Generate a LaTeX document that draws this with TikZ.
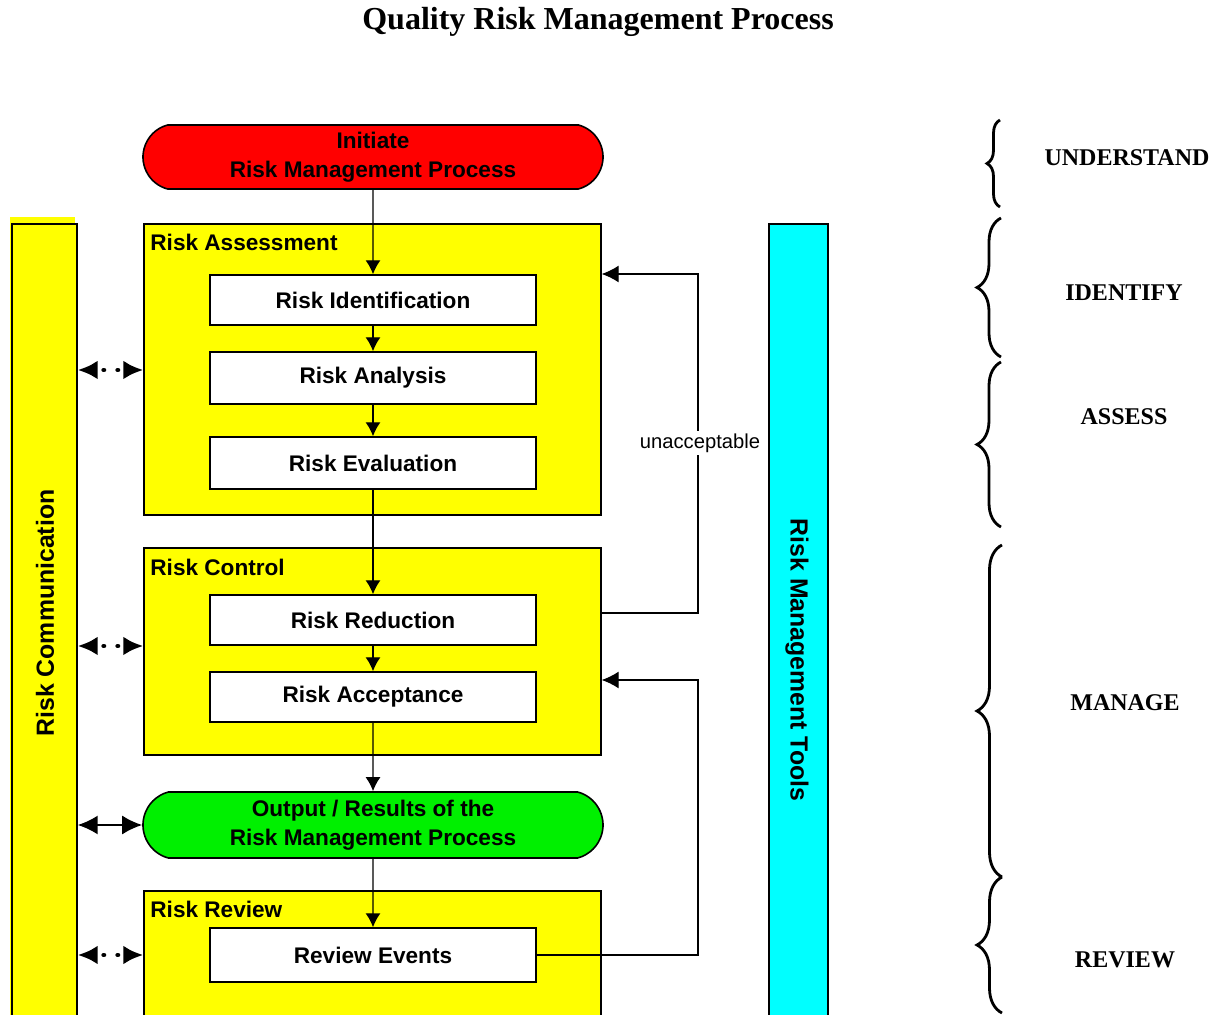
\documentclass[tikz,border=0pt]{standalone}
\usepackage{fontspec}
\setmainfont{Liberation Serif}
\setsansfont{Liberation Sans}
\usetikzlibrary{arrows.meta,shapes.misc,decorations.pathreplacing}
\definecolor{qyellow}{RGB}{255,255,0}
\definecolor{qcyan}{RGB}{0,255,255}
\definecolor{qred}{RGB}{255,0,0}
\definecolor{qgreen}{RGB}{0,240,0}

\begin{document}
\begin{tikzpicture}[x=0.5pt,y=-0.5pt,
    every node/.style={font=\sffamily\bfseries\fontsize{11.3}{14.5}\selectfont},
    stage/.style={draw,fill=white,line width=0.7pt,minimum width=163pt,inner sep=0pt},
    area/.style={draw,fill=qyellow,line width=0.7pt,minimum width=228.5pt,inner sep=0pt},
    bar/.style={draw,line width=0.7pt,minimum height=403pt,inner sep=0pt},
    pill/.style={draw,line width=0.8pt,rounded rectangle,rounded rectangle arc length=150,
        minimum width=230pt,align=center,inner sep=0pt},
    tag/.style={anchor=west,inner sep=0pt},
    side/.style={inner sep=0pt,font=\sffamily\bfseries\fontsize{12.4}{15}\selectfont},
    flow/.style={-{Latex[length=7pt,width=7.5pt]},line width=0.7pt},
    back/.style={-{Latex[length=8.5pt,width=8.5pt]},line width=0.6pt},
    talk/.style={{Latex[length=10pt,width=9.5pt]}-{Latex[length=10pt,width=9.5pt]},line width=1pt},
    dotty/.style={line width=2.4pt,line cap=round,dash pattern=on 0.1pt off 6.9pt,dash phase=3pt},
    phase/.style={font=\rmfamily\bfseries\fontsize{12}{14}\selectfont},
    curly/.style={decorate,decoration={brace,amplitude=#1},line width=1.4pt}]

    \useasboundingbox (0,0) rectangle (1222,1015);

    \node[font=\rmfamily\bfseries\fontsize{16}{19}\selectfont] (title) at (598,22) {Quality Risk Management Process};

    \fill[qyellow] (10,217) rectangle (75,1030);
    \node[bar,fill=qyellow,minimum width=32.5pt] (comm) at (44.5,627) {};
    \node[side,rotate=90] (commtext) at (45,613) {Risk Communication};
    \node[bar,fill=qcyan,minimum width=29.5pt] (tools) at (798.5,627) {};
    \node[side,rotate=-90] (toolstext) at (797,660) {Risk Management Tools};

    \node[pill,fill=qred,minimum height=32pt] (init) at (373,157) {Initiate\\Risk Management Process};

    \node[area,minimum height=145.5pt] (assess) at (372.5,369.5) {};
    \node[tag] (assesstag) at (150,242) {Risk Assessment};
    \node[stage,minimum height=25pt] (identify) at (373,300) {Risk Identification};
    \node[stage,minimum height=26pt] (analysis) at (373,378) {Risk Analysis};
    \node[stage,minimum height=26pt] (evaluation) at (373,463) {Risk Evaluation};

    \node[area,minimum height=103.5pt] (control) at (372.5,651.5) {};
    \node[tag] (controltag) at (150,567) {Risk Control};
    \node[stage,minimum height=25pt] (reduction) at (373,620) {Risk Reduction};
    \node[stage,minimum height=25pt] (acceptance) at (373,697) {Risk Acceptance};

    \node[pill,fill=qgreen,minimum height=33pt] (output) at (373,825) {Output / Results of the\\Risk Management Process};

    \node[area,minimum height=69.5pt] (review) at (372.5,960.5) {};
    \node[tag] (reviewtag) at (150,909) {Risk Review};
    \node[stage,minimum height=27pt] (events) at (373,955) {Review Events};

    \draw[flow] (init) -- (identify);
    \draw[flow] (identify) -- (analysis);
    \draw[flow] (analysis) -- (evaluation);
    \draw[flow] (evaluation) -- (reduction);
    \draw[flow] (reduction) -- (acceptance);
    \draw[flow] (acceptance) -- (output);
    \draw[flow] (output) -- (events);

    \coordinate (turn1) at (698,613);
    \coordinate (turn2) at (698,274);
    \coordinate (turn3) at (698,680);
    \draw[back] (control.east |- turn1) -- (turn1) -- (turn2) -- (assess.east |- turn2);
    \node[fill=white,inner sep=1.5pt,font=\sffamily\fontsize{10.1}{12}\selectfont] (unacc) at (700,443) {unacceptable};
    \draw[back] (events.east) -| (turn3) -- (control.east |- turn3);

    \draw[talk,dotty] (comm.east |- 0,370) -- (assess.west |- 0,370);
    \draw[talk,dotty] (comm.east |- 0,646) -- (control.west |- 0,646);
    \draw[talk] (comm.east |- output) -- (output.west);
    \draw[talk,dotty] (comm.east |- events) -- (review.west |- events);

    \draw[curly=6.5pt] (1000,207) -- (1000,120);
    \draw[curly=12pt] (1001,357) -- (1001,218);
    \draw[curly=12pt] (1001,527) -- (1001,362);
    \draw[curly=12.5pt] (1002,877) -- (1002,545);
    \draw[curly=12.5pt] (1002,1013) -- (1002,877);

    \node[phase] (understand) at (1127,158) {UNDERSTAND};
    \node[phase] (identifyphase) at (1124,293) {IDENTIFY};
    \node[phase] (assessphase) at (1124,417) {ASSESS};
    \node[phase] (managephase) at (1125,703) {MANAGE};
    \node[phase] (reviewphase) at (1125,960) {REVIEW};
\end{tikzpicture}
\end{document}
